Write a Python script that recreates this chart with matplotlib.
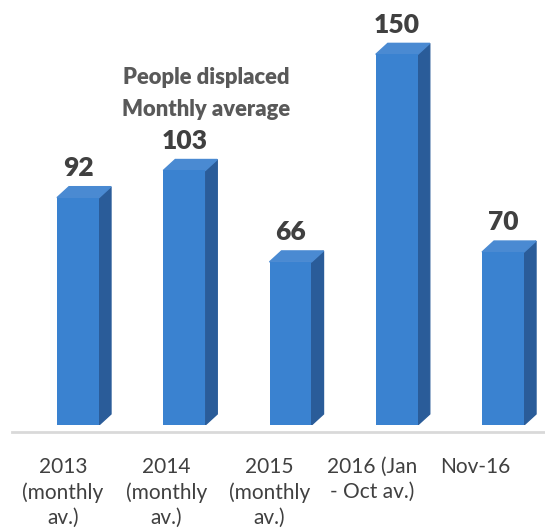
import numpy as np
import matplotlib.pyplot as plt
from matplotlib.patches import Polygon

categories = ['2013\n(monthly\nav.)', '2014\n(monthly\nav.)', '2015\n(monthly\nav.)',
              '2016 (Jan\n- Oct av.)', 'Nov-16']
values = [92, 103, 66, 150, 70]
title = 'People displaced\nMonthly average'

front = '#3a82d0'
side = '#2a5c99'
top = '#4a8ad2'
txt = '#404040'

fig = plt.figure(figsize=(5.45, 5.32), dpi=100)
ax = fig.add_axes([12 / 545, 107 / 532, 533 / 545, 425 / 532])
ax.set_xlim(-0.621, 4.395)
ax.set_ylim(0, 172)
ax.axis('off')

x = np.arange(len(values))
w = 0.395
dx = 0.113
dy = 4.45

ax.bar(x, values, width=w, color=front, zorder=3)
for xi, v in zip(x, values):
    r = xi + w / 2
    l = xi - w / 2
    ax.add_patch(Polygon([(r, 0), (r + dx, dy), (r + dx, v + dy), (r, v)],
                         closed=True, color=side, zorder=2))
    ax.add_patch(Polygon([(l, v), (r, v), (r + dx, v + dy), (l + dx, v + dy)],
                         closed=True, color=top, zorder=2))
    ax.text(xi, v + 12, str(v), ha='center', va='center', fontsize=19,
            fontweight='heavy', color=txt, family='Lato')

ax.axhline(-3, xmin=0, xmax=1, color='#d9d9d9', lw=2, clip_on=False)

ax.text(1.21, 134.2, title, ha='center', va='center', fontsize=15.8,
        fontweight='heavy', color='#595959', family='Lato', linespacing=1.6)

tick_pos = x - 0.14 - 0.03 * x
for tp, lab in zip(tick_pos, categories):
    ax.text(tp, -13, lab, ha='center', va='top', fontsize=15, color=txt,
            family='Lato', linespacing=1.3)

fig.savefig('out.png', dpi=100)
